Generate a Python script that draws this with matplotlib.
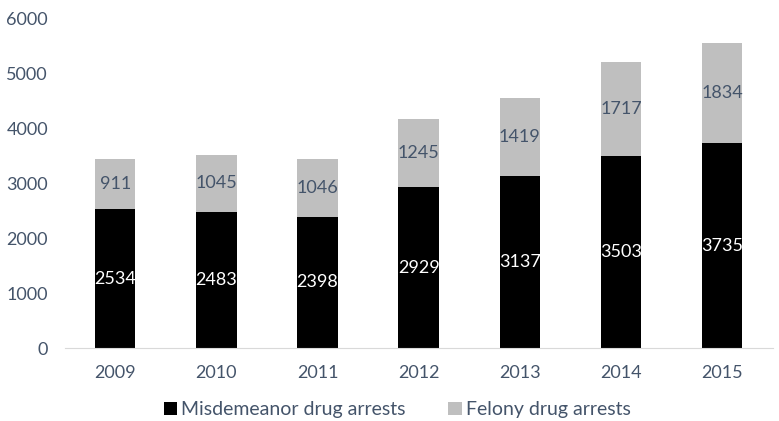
import matplotlib.pyplot as plt
import numpy as np

years = ['2009', '2010', '2011', '2012', '2013', '2014', '2015']
misdemeanor = [2534, 2483, 2398, 2929, 3137, 3503, 3735]
felony = [911, 1045, 1046, 1245, 1419, 1717, 1834]

text_color = '#44546A'
plt.rcParams['font.family'] = ['Lato', 'DejaVu Sans']

fig = plt.figure(figsize=(7.79, 4.21), dpi=100)
ax = fig.add_axes([0.083, 0.173, 0.909, 0.782])

x = np.arange(len(years))
width = 0.40
b1 = ax.bar(x, misdemeanor, width, color='#000000', label='Misdemeanor drug arrests')
b2 = ax.bar(x, felony, width, bottom=misdemeanor, color='#BFBFBF', label='Felony drug arrests')

for i in range(len(years)):
    ax.text(x[i], misdemeanor[i] / 2, str(misdemeanor[i]), ha='center', va='center',
            color='white', fontsize=13)
    ax.text(x[i], misdemeanor[i] + felony[i] / 2, str(felony[i]), ha='center', va='center',
            color=text_color, fontsize=13)

ax.set_xlim(-0.5, len(years) - 0.5)
ax.set_ylim(0, 6000)
ax.set_yticks(range(0, 6001, 1000))
ax.set_xticks(x)
ax.set_xticklabels(years)
ax.tick_params(axis='both', length=0, labelsize=13, colors=text_color)
ax.tick_params(axis='x', pad=12)
ax.tick_params(axis='y', pad=12)

for side in ['top', 'right', 'left']:
    ax.spines[side].set_visible(False)
ax.spines['bottom'].set_color('#D9D9D9')

fig.legend(handles=[b1, b2], loc='lower center', bbox_to_anchor=(0.51, -0.035), ncol=2,
           frameon=False, fontsize=14, labelcolor=text_color, handlelength=0.7,
           handleheight=0.7, handletextpad=0.2, columnspacing=2.2)

fig.savefig('out.png', dpi=100)
